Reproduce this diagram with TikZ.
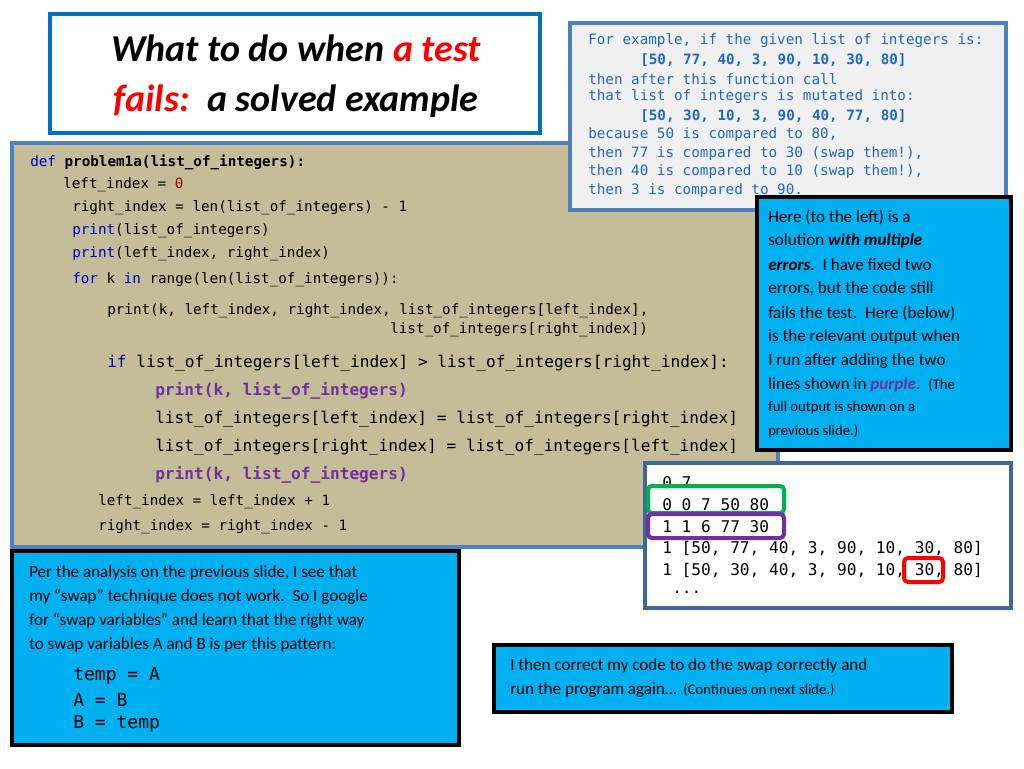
\documentclass[tikz,border=0pt]{standalone}
\usepackage{fontspec}
\setmainfont{Carlito}
\setmonofont{DejaVu Sans Mono}
\definecolor{boxblue}{RGB}{ 79, 129, 189 }
\definecolor{titleblue}{RGB}{ 0, 112, 192 }
\definecolor{codetan}{RGB}{ 196, 189, 151 }
\definecolor{notecyan}{RGB}{ 0, 176, 240 }
\definecolor{kwblue}{RGB}{ 0, 0, 192 }
\definecolor{numred}{RGB}{ 160, 0, 0 }
\definecolor{purp}{RGB}{ 112, 48, 160 }
\definecolor{exblue}{RGB}{ 31, 104, 190 }
\definecolor{outgreen}{RGB}{ 0, 176, 80 }
\newcommand{\kw}[1]{\textcolor{kwblue}{#1}}
\newcommand{\fs}[1]{\fontsize{#1}{#1}\selectfont}

\begin{document}
\begin{tikzpicture}[x=0.75pt,y=-0.75pt]
\tikzstyle{code line}=[anchor=west,inner sep=0,font=\ttfamily\fs{10.7}]
\tikzstyle{big code}=[anchor=west,inner sep=0,font=\ttfamily\fs{12.1}]
\tikzstyle{ex line}=[anchor=west,inner sep=0,font=\ttfamily\fs{10.7},text=exblue]
\tikzstyle{note line}=[anchor=west,inner sep=0,font=\fs{12.8}]
\tikzstyle{blue box}=[draw=boxblue,line width=2.5pt]
\tikzstyle{cyan box}=[draw=black,line width=3pt,fill=notecyan]
\useasboundingbox (0,0) rectangle (1024,768);

% boxes
\draw[blue box,draw=titleblue,fill=white] (50,14) rectangle (540,133);
\draw[blue box,fill=codetan] (12,143) rectangle (778,547);
\draw[blue box,fill=black!6] (570,23) rectangle (1006,210);

% title
\node(t1) at (296,48) {\fs{28.5}\bfseries\itshape What to do when \textcolor{red}{a test}};
\node(t2) at (296,101) {\fs{28.5}\bfseries\itshape \textcolor{red}{fails:}\, a solved example};

% example
\node(e1)[ex line] at (588,41) {For example, if the given list of integers is:};
\node(e2)[ex line,font=\ttfamily\bfseries\fs{10.7}] at (640,60) {[50, 77, 40, 3, 90, 10, 30, 80]};
\node(e3)[ex line] at (588,79) {then after this function call};
\node(e4)[ex line] at (588,97) {that list of integers is mutated into:};
\node(e5)[ex line,font=\ttfamily\bfseries\fs{10.7}] at (640,116) {[50, 30, 10, 3, 90, 40, 77, 80]};
\node(e6)[ex line] at (588,135) {because 50 is compared to 80,};
\node(e7)[ex line] at (588,154) {then 77 is compared to 30 (swap them!),};
\node(e8)[ex line] at (588,172) {then 40 is compared to 10 (swap them!),};
\node(e9)[ex line] at (588,191) {then 3 is compared to 90.};

% code
\node(c1)[code line] at (30,162) {\kw{def} \textbf{problem1a(list\_of\_integers):}};
\node(c2)[code line] at (63,185) {left\_index = \textcolor{numred}{0}};
\node(c3)[code line] at (72,208) {right\_index = len(list\_of\_integers) - 1};
\node(c4)[code line] at (72,231) {\kw{print}(list\_of\_integers)};
\node(c5)[code line] at (72,254) {\kw{print}(left\_index, right\_index)};
\node(c6)[code line] at (72,280) {\kw{for} k \kw{in} range(len(list\_of\_integers)):};
\node(c7)[code line] at (107,311) {print(k, left\_index, right\_index, list\_of\_integers[left\_index],};
\node(c8)[code line] at (390,330) {list\_of\_integers[right\_index])};
\node(c9)[big code] at (107,363) {\kw{if} list\_of\_integers[left\_index] > list\_of\_integers[right\_index]:};
\node(c10)[big code,text=purp,font=\ttfamily\bfseries\fs{12.1}] at (155,391) {print(k, list\_of\_integers)};
\node(c11)[big code] at (155,419) {list\_of\_integers[left\_index] = list\_of\_integers[right\_index]};
\node(c12)[big code] at (155,447) {list\_of\_integers[right\_index] = list\_of\_integers[left\_index]};
\node(c13)[big code,text=purp,font=\ttfamily\bfseries\fs{12.1}] at (155,475) {print(k, list\_of\_integers)};
\node(c14)[code line] at (98,502) {left\_index = left\_index + 1};
\node(c15)[code line] at (98,527) {right\_index = right\_index - 1};

% note
\draw[cyan box] (757,197) rectangle (1011,450);
\node(n1)[note line] at (768,217) {Here (to the left) is a};
\node(n2)[note line] at (768,241) {solution \textbf{\itshape with multiple}};
\node(n3)[note line] at (768,265) {\textbf{\itshape errors}.\, I have fixed two};
\node(n4)[note line] at (768,289) {errors, but the code still};
\node(n5)[note line] at (768,313) {fails the test.\, Here (below)};
\node(n6)[note line] at (768,337) {is the relevant output when};
\node(n7)[note line] at (768,361) {I run after adding the two};
\node(n8)[note line] at (768,385) {lines shown in \textcolor{purp}{\textbf{\itshape purple}}.\, {\fs{11}(The}};
\node(n9)[note line,font=\fs{11}] at (768,408) {full output is shown on a};
\node(n10)[note line,font=\fs{11}] at (768,431) {previous slide.)};

% output
\draw[blue box,draw=boxblue!80!black,fill=white] (645,463) rectangle (1011,608);
\node(o1)[big code] at (662,483) {0 7};
\node(o2)[big code] at (662,505) {0 0 7 50 80};
\node(o3)[big code] at (662,527) {1 1 6 77 30};
\node(o4)[big code] at (662,548) {1 [50, 77, 40, 3, 90, 10, 30, 80]};
\node(o5)[big code] at (662,570) {1 [50, 30, 40, 3, 90, 10, 30, 80]};
\node(o6)[big code] at (672,592) {...};
\draw[outgreen,line width=3pt,rounded corners=3] (648,486) rectangle (784,513);
\draw[purp,line width=3pt,rounded corners=3] (648,514) rectangle (784,538);
\draw[red,line width=3pt,rounded corners=3] (904,558) rectangle (943,582);

% swap
\draw[cyan box] (12,551) rectangle (459,745);
\node(s1)[note line] at (29,573) {Per the analysis on the previous slide, I see that};
\node(s2)[note line] at (29,597) {my “swap” technique does not work.\, So I google};
\node(s3)[note line] at (29,621) {for “swap variables” and learn that the right way};
\node(s4)[note line] at (29,645) {to swap variables A and B is per this pattern:};
\node(s5)[anchor=west,inner sep=0,font=\ttfamily\fs{13.5}] at (73,676) {temp = A};
\node(s6)[anchor=west,inner sep=0,font=\ttfamily\fs{13.5}] at (73,700) {A = B};
\node(s7)[anchor=west,inner sep=0,font=\ttfamily\fs{13.5}] at (73,724) {B = temp};

% next
\draw[cyan box] (494,645) rectangle (952,712);
\node(b1)[note line] at (510,666) {I then correct my code to do the swap correctly and};
\node(b2)[note line] at (510,690) {run the program again…\, {\fs{11}(Continues on next slide.)}};
\end{tikzpicture}
\end{document}
